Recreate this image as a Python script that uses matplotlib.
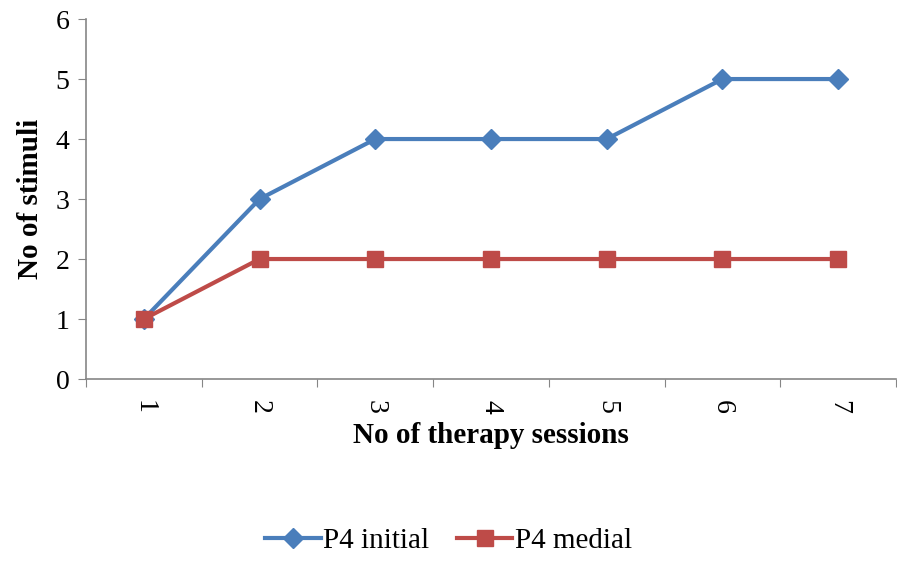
import matplotlib.pyplot as plt
from matplotlib.ticker import FixedLocator, NullFormatter

# data
sessions = [1, 2, 3, 4, 5, 6, 7]
p4_initial = [1, 3, 4, 4, 4, 5, 5]
p4_medial = [1, 2, 2, 2, 2, 2, 2]

plt.rcParams['font.family'] = ['Liberation Serif', 'DejaVu Serif']

fig = plt.figure(figsize=(8.97, 5.62), dpi=100)
ax = fig.add_axes([0.0959, 0.3256, 0.903, 0.6405])

blue = '#4A7EBB'
red = '#BE4B48'
ax.plot(sessions, p4_initial, color=blue, lw=3, marker='D', ms=10,
        label='P4 initial', zorder=3)
ax.plot(sessions, p4_medial, color=red, lw=3, marker='s', ms=11,
        label='P4 medial', zorder=4)

ax.set_xlim(0.5, 7.5)
ax.set_ylim(0, 6)
ax.set_yticks(range(0, 7))
ax.tick_params(axis='y', labelsize=20, length=6, color='#868686', pad=6)

# category axis: ticks between categories, labels at the centres
ax.xaxis.set_major_locator(FixedLocator([i + 0.5 for i in range(0, 8)]))
ax.xaxis.set_major_formatter(NullFormatter())
ax.xaxis.set_minor_locator(FixedLocator(sessions))
ax.set_xticklabels([str(s) for s in sessions], minor=True, rotation=270)
ax.tick_params(axis='x', which='major', length=6, color='#868686')
ax.tick_params(axis='x', which='minor', length=0, labelsize=20, pad=15)

for side in ['top', 'right']:
    ax.spines[side].set_visible(False)
for side in ['left', 'bottom']:
    ax.spines[side].set_color('#868686')
    ax.spines[side].set_linewidth(1.2)

ax.set_xlabel('No of therapy sessions', fontsize=21, fontweight='bold', labelpad=6)
ax.set_ylabel('No of stimuli', fontsize=21, fontweight='bold', labelpad=8)

fig.legend(loc='center', bbox_to_anchor=(0.5, 0.037), ncol=2, frameon=False,
           fontsize=21, handlelength=1.9, handletextpad=0.08, columnspacing=0.95)

fig.savefig('out.png', dpi=100)
